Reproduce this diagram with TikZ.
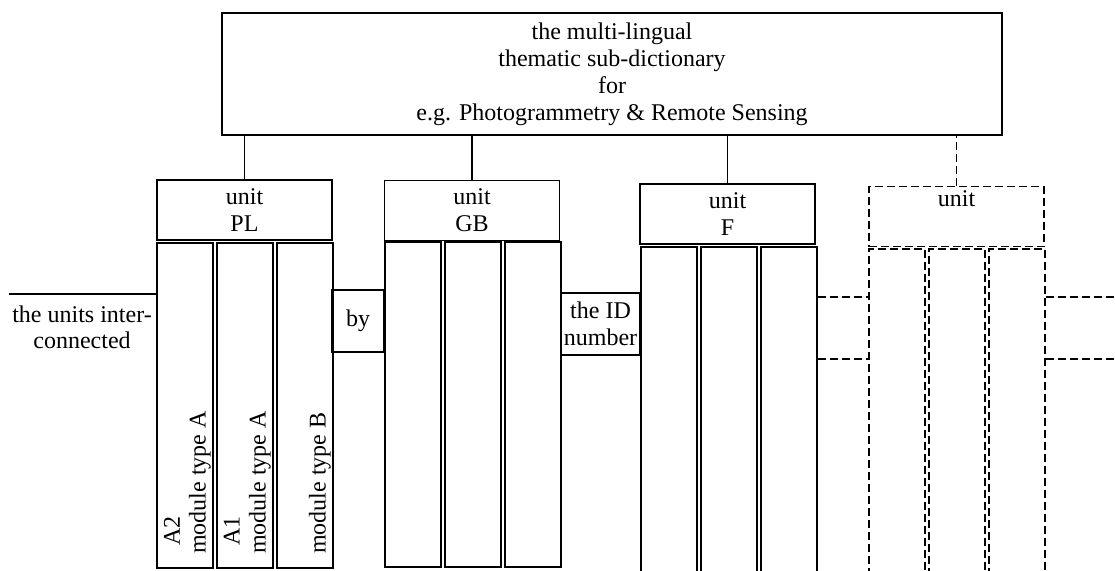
\documentclass[tikz,border=0pt]{standalone}
\usepackage{fontspec}
\setmainfont{Liberation Serif}
\usetikzlibrary{positioning}
\tikzset{
  dictbox/.style={draw, minimum width=390pt, minimum height=61pt, align=center, inner sep=0pt},
  unitbox/.style={draw, minimum width=87.5pt, minimum height=30pt, align=center, inner sep=0pt},
  modcol/.style={draw, minimum width=28pt, minimum height=162.5pt, inner sep=0pt, anchor=north west},
  linkbox/.style={draw, align=center, inner sep=0pt, minimum height=31pt},
  modtext/.style={rotate=90, inner sep=0pt},
  dashlink/.style={dash pattern=on 4pt off 2pt}
}

\begin{document}
\begin{tikzpicture}[x=0.5pt, y=-0.5pt, line width=0.9pt, font=\fontsize{12}{13.5}\selectfont]
    \useasboundingbox (0,0) rectangle (1115,570);

    % the dictionary and its units
    \node [dictbox] (dict) at (612,74) {the multi-lingual\\thematic sub-dictionary\\for\\e.g. Photogrammetry \& Remote Sensing};
    \node [unitbox] (pl) at (244.5,210) {unit\\PL};
    \node [unitbox] (gb) at (472,210.5) {unit\\GB};
    \node [unitbox] (f) at (727.5,214) {unit\\F};
    \node [unitbox, dashlink] (nx) at (956.5,216.5) {unit\\\strut};

    % module columns under each unit
    \foreach \u/\x/\y in {pl/156/242, gb/384/241, f/640/246}
      \foreach \i in {1,2,3}
        \node [modcol] (\u\i) at ({\x+60*(\i-1)},\y) {};
    \foreach \i in {1,2,3}
      \node [modcol, dashlink] (nx\i) at ({868+60*(\i-1)},248) {};

    % coordinates to be reused
    \coordinate (lnk) at (9,294);
    \coordinate (gapt) at (841,297);
    \coordinate (gapb) at (841,359);
    \coordinate (rimt) at (1115,297);
    \coordinate (rimb) at (1115,359);

    % draw connections
    \foreach \u in {pl,gb,f}
      \draw (\u.north) -- (\u.north |- dict.south);
    \draw [dashlink] (nx.north) -- (nx.north |- dict.south);
    \draw (lnk) -- (pl1.west |- lnk);
    \node [linkbox, minimum width=26pt] (by) at (358,321) {by};
    \node [linkbox, minimum width=39.5pt] (id) at (600.5,324) {the ID\\number};
    \draw [dashlink] (f3.east |- gapt) -- (nx1.west |- gapt);
    \draw [dashlink] (f3.east |- gapb) -- (nx1.west |- gapb);
    \draw [dashlink] (nx3.east |- rimt) -- (rimt);
    \draw [dashlink] (nx3.east |- rimb) -- (rimb);

    % add labels
    \node [anchor=north, align=center, inner sep=0pt, font=\fontsize{12}{13}\selectfont] (note) at (82,305) {the units inter-\\connected};
    \node [modtext, anchor=north west] (a2) at ([xshift=3.5pt, yshift=11pt]pl1.south west) {A2};
    \node [modtext, anchor=south west] (ma2) at ([xshift=-1pt, yshift=7pt]pl1.south east) {module type A};
    \node [modtext, anchor=north west] (a1) at ([xshift=3.5pt, yshift=11pt]pl2.south west) {A1};
    \node [modtext, anchor=south west] (ma1) at ([xshift=-1pt, yshift=7pt]pl2.south east) {module type A};
    \node [modtext, anchor=south west] (mb) at ([xshift=-1pt, yshift=7pt]pl3.south east) {module type B};
\end{tikzpicture}
\end{document}
